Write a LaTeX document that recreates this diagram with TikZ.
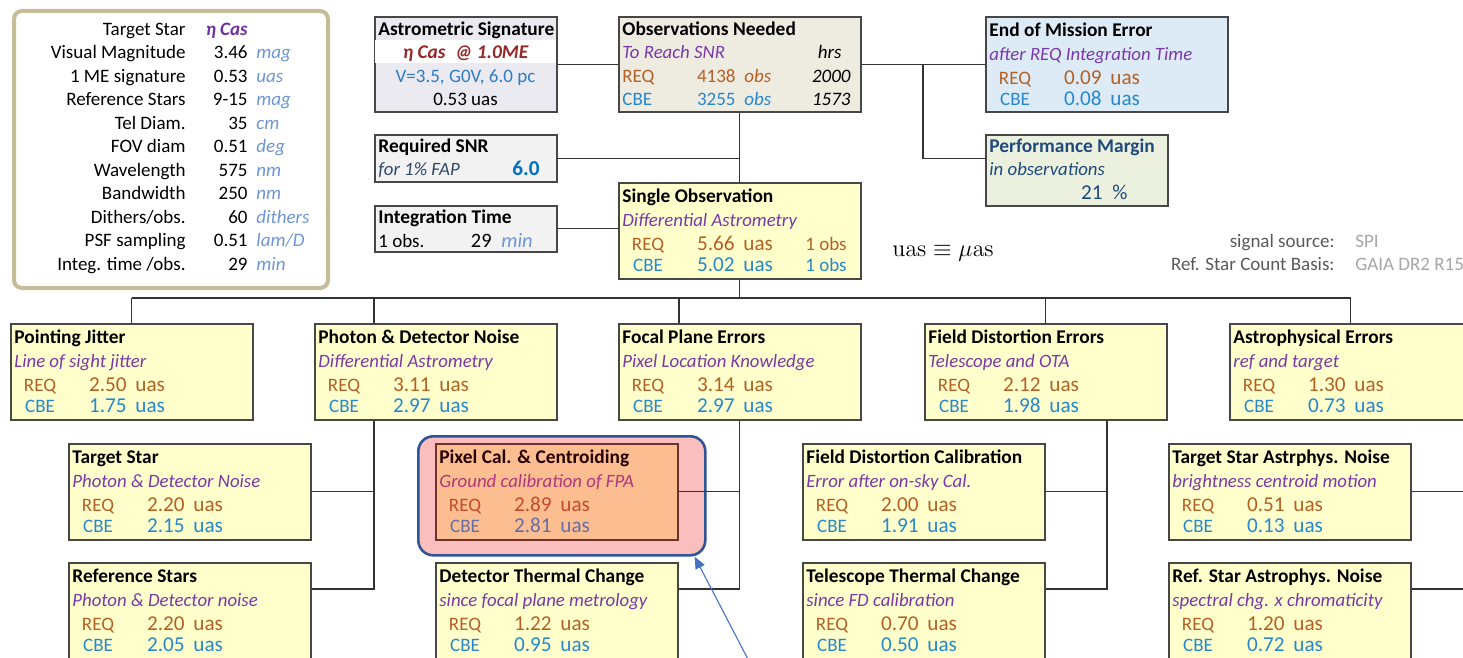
\documentclass[tikz,border=0pt]{standalone}
\usepackage[no-math]{fontspec}
\usepackage{tikz}
\usetikzlibrary{calc,arrows.meta,positioning}
\setmainfont{Carlito}

\definecolor{reqc}{RGB}{180,96,36}
\definecolor{cbec}{RGB}{38,135,205}
\definecolor{subc}{RGB}{122,56,170}
\definecolor{unitc}{RGB}{108,150,212}
\definecolor{navy}{RGB}{31,73,125}
\definecolor{slate}{RGB}{50,72,105}
\definecolor{snrblue}{RGB}{0,112,192}
\definecolor{sigred}{RGB}{150,40,40}
\definecolor{sigblue}{RGB}{46,125,195}
\definecolor{starc}{RGB}{112,48,160}
\definecolor{yelfill}{RGB}{255,255,204}
\definecolor{obsfill}{RGB}{238,236,225}
\definecolor{asigfill}{RGB}{234,234,240}
\definecolor{lgray}{RGB}{242,242,242}
\definecolor{eomfill}{RGB}{221,235,247}
\definecolor{perffill}{RGB}{235,241,222}
\definecolor{paredge}{RGB}{196,189,151}
\definecolor{pinkfill}{RGB}{250,190,190}
\definecolor{hiedge}{RGB}{47,85,151}
\definecolor{pcalfill}{RGB}{252,190,145}
\definecolor{pcaledge}{RGB}{110,50,45}
\definecolor{arrc}{RGB}{68,114,196}
\definecolor{dgray}{RGB}{89,89,89}
\definecolor{mgray}{RGB}{166,166,166}

% error budget box: [box style]{name}{x}{y}{title}{subtitle}{REQ}{CBE}
\newcommand{\errbox}[8][yelbox]{%
   \node[#1,anchor=north west] (#2) at (#3,#4) {};
   \node[ttl] (#2t) at ($(#2.north west)+(4,14)$) {#5};
   \node[sub] (#2s) at ($(#2.north west)+(4,38)$) {#6};
   \node[lreq] (#2rl) at ($(#2.north west)+(30,62)$) {REQ};
   \node[vreq] (#2rv) at ($(#2.north west)+(117,62)$) {#7};
   \node[ureq] (#2ru) at ($(#2.north west)+(125,62)$) {uas};
   \node[lcbe] (#2cl) at ($(#2.north west)+(30,83)$) {CBE};
   \node[vcbe] (#2cv) at ($(#2.north west)+(117,83)$) {#8};
   \node[ucbe] (#2cu) at ($(#2.north west)+(125,83)$) {uas};
}

\begin{document}
\begin{tikzpicture}[x=0.5pt, y=-0.5pt,
   txt/.style={inner sep=0pt, text height=6.2pt, text depth=0pt, font=\fontsize{9.5}{11}\selectfont},
   big/.style={font=\fontsize{10.6}{12}\selectfont},
   ttl/.style={txt, anchor=west, font=\bfseries\fontsize{9.7}{11}\selectfont},
   sub/.style={txt, anchor=west, text=subc, font=\itshape\fontsize{9.4}{11}\selectfont},
   lreq/.style={txt, text=reqc},
   vreq/.style={txt, big, anchor=east, text=reqc},
   ureq/.style={txt, big, anchor=west, text=reqc},
   lcbe/.style={txt, text=cbec},
   vcbe/.style={txt, big, anchor=east, text=cbec},
   ucbe/.style={txt, big, anchor=west, text=cbec},
   box/.style={draw=black!72, line width=0.8pt, inner sep=0pt, minimum width=121pt, minimum height=48pt},
   yelbox/.style={box, fill=yelfill},
   tallbox/.style={yelbox, minimum height=56pt},
   bluebox/.style={box, fill=eomfill, minimum height=47.5pt},
   pcalbox/.style={box, fill=pcalfill, draw=pcaledge},
   smallbox/.style={box, minimum width=91pt},
   hilite/.style={draw=hiedge, fill=pinkfill, line width=1.3pt, rounded corners=7.5pt, inner sep=0pt},
   parbox/.style={draw=paredge, fill=white, line width=2pt, rounded corners=4pt, inner sep=0pt},
   plab/.style={txt, anchor=east},
   pval/.style={txt, anchor=east},
   punit/.style={txt, anchor=west, text=unitc, font=\itshape\fontsize{9.5}{11}\selectfont},
   conn/.style={draw=black!80, line width=0.65pt},
   ptr/.style={draw=arrc, line width=0.55pt, -{Triangle[length=6pt,width=5pt]}}]

   \useasboundingbox (0,0) rectangle (1463,658);
   \clip (0,0) rectangle (1463,658);

   %parameters
   \node[parbox, anchor=north west, minimum width=157pt, minimum height=138.5pt] (params) at (12,9) {};
   \node[plab] (pl0) at (186,29) {Target Star};
   \node[pval, text=starc, font=\bfseries\itshape\fontsize{9.5}{11}\selectfont] (pv0) at (248,29) {η Cas};
   \foreach \lab/\val/\unit [count=\i] in {Visual Magnitude/3.46/mag, 1 ME signature/0.53/uas,
      Reference Stars/9-15/mag, Tel Diam./35/cm, FOV diam/0.51/deg, Wavelength/575/nm,
      Bandwidth/250/nm, {Dithers/obs.}/60/dithers, PSF sampling/0.51/{lam/D}, {Integ. time /obs.}/29/min}
   {
      \node[plab] (pl\i) at (186,29+23.5*\i) {\lab};
      \node[pval] (pv\i) at (248,29+23.5*\i) {\val};
      \node[punit] (pu\i) at (256,29+23.5*\i) {\unit};
   }

   %astrometric signature
   \node[smallbox, fill=asigfill, anchor=north west, minimum height=47.5pt] (asig) at (374,16) {};
   \node[fill=white, inner sep=0pt, minimum width=90.2pt, minimum height=11.5pt, anchor=north west] (band) at (374.8,40) {};
   \node[ttl] (asigt) at (378,29) {Astrometric Signature};
   \node[txt, text=sigred, font=\bfseries\itshape\fontsize{9.7}{11}\selectfont] (asign) at (465.5,52) {η Cas\enspace@ 1.0ME};
   \node[txt, text=sigblue] (asigv) at (465.5,76) {V=3.5, G0V, 6.0 pc};
   \node[txt] (asigu) at (465.5,99) {0.53 uas};

   %observations needed
   \node[box, fill=obsfill, anchor=north west, minimum height=47.5pt] (obsn) at (618,16) {};
   \node[ttl] (obsnt) at (622,29) {Observations Needed};
   \node[sub] (obsns) at (622,52) {To Reach SNR};
   \node[txt, anchor=east, font=\itshape\fontsize{9.5}{11}\selectfont] (obsnh) at (842,52) {hrs};
   \node[txt, anchor=west, text=reqc] (obsnrl) at (622,76) {REQ};
   \node[txt, anchor=east, text=reqc] (obsnrv) at (736,76) {4138};
   \node[txt, anchor=west, text=reqc, font=\itshape\fontsize{9.5}{11}\selectfont] (obsnru) at (744,76) {obs};
   \node[txt, anchor=east, font=\itshape\fontsize{9.5}{11}\selectfont] (obsnrh) at (851,76) {2000};
   \node[txt, anchor=west, text=cbec] (obsncl) at (622,99) {CBE};
   \node[txt, anchor=east, text=cbec] (obsncv) at (736,99) {3255};
   \node[txt, anchor=west, text=cbec, font=\itshape\fontsize{9.5}{11}\selectfont] (obsncu) at (744,99) {obs};
   \node[txt, anchor=east, font=\itshape\fontsize{9.5}{11}\selectfont] (obsnch) at (851,99) {1573};

   %end of mission and margin
   \errbox[bluebox]{eom}{985}{16}{End of Mission Error}{after REQ Integration Time}{0.09}{0.08}
   \node[smallbox, fill=perffill, anchor=north west, minimum height=35.5pt] (perf) at (985,134) {};
   \node[ttl, text=navy] (perft) at (989,146) {Performance Margin};
   \node[sub, text=navy] (perfs) at (989,169) {in observations};
   \node[txt, big, anchor=east, text=navy] (perfv) at (1103,193) {21};
   \node[txt, big, anchor=west, text=navy] (perfu) at (1112,193) {\%};

   %required snr and integration time
   \node[smallbox, fill=lgray, anchor=north west, minimum height=23.5pt] (rsnr) at (374,134) {};
   \node[ttl] (rsnrt) at (378,146) {Required SNR};
   \node[sub, text=slate] (rsnrs) at (378,169) {for 1\% FAP};
   \node[txt, anchor=east, text=snrblue, font=\bfseries\fontsize{10.6}{12}\selectfont] (rsnrv) at (540,169) {6.0};
   \node[smallbox, fill=lgray, anchor=north west, minimum height=23pt] (itime) at (374,205) {};
   \node[ttl] (itimet) at (378,217) {Integration Time};
   \node[txt, anchor=west] (itimel) at (378,241) {1 obs.};
   \node[txt, anchor=east, font=\fontsize{10.2}{12}\selectfont] (itimev) at (492,241) {29};
   \node[punit, font=\itshape\fontsize{10.2}{12}\selectfont] (itimeu) at (501,241) {min};

   %single observation
   \errbox{sobs}{618}{182}{Single Observation}{Differential Astrometry}{5.66}{5.02}
   \node[txt, anchor=east, text=reqc] (sobsro) at ($(sobs.north west)+(229,62)$) {1 obs};
   \node[txt, anchor=east, text=cbec] (sobsco) at ($(sobs.north west)+(229,83)$) {1 obs};

   %notes
   \node[inner sep=0pt, font=\fontsize{12}{14}\selectfont] (uasdef) at (943,253) {$\mathrm{uas}\equiv\mu\mathrm{as}$};
   \node[txt, anchor=east, text=dgray] (sigl) at (1335,241) {signal source:};
   \node[txt, anchor=west, text=mgray] (sigv) at (1355,241) {SPI};
   \node[txt, anchor=east, text=dgray] (refl) at (1335,264) {Ref. Star Count Basis:};
   \node[txt, anchor=west, text=mgray] (refv) at (1355,264) {GAIA DR2 R15};

   %top row
   \errbox{pj}{10}{323}{Pointing Jitter}{Line of sight jitter}{2.50}{1.75}
   \errbox{pdn}{314}{323}{Photon \& Detector Noise}{Differential Astrometry}{3.11}{2.97}
   \errbox{fpe}{618}{323}{Focal Plane Errors}{Pixel Location Knowledge}{3.14}{2.97}
   \errbox{fde}{924}{323}{Field Distortion Errors}{Telescope and OTA}{2.12}{1.98}
   \errbox{ae}{1229}{323}{Astrophysical Errors}{ref and target}{1.30}{0.73}

   %second row
   \errbox{ts}{68}{443}{Target Star}{Photon \& Detector Noise}{2.20}{2.15}
   \node[hilite, anchor=north west, minimum width=143.5pt, minimum height=59.5pt] (pcalo) at (417,435) {};
   \begin{scope}[ttl/.append style={text=black!85!red}, sub/.append style={text={rgb,255:red,175;green,55;blue,125}},
      lreq/.append style={text={rgb,255:red,195;green,75;blue,45}}, vreq/.append style={text={rgb,255:red,195;green,75;blue,45}},
      ureq/.append style={text={rgb,255:red,195;green,75;blue,45}}, lcbe/.append style={text={rgb,255:red,100;green,110;blue,165}},
      vcbe/.append style={text={rgb,255:red,100;green,110;blue,165}}, ucbe/.append style={text={rgb,255:red,100;green,110;blue,165}}]
      \errbox[pcalbox]{pcal}{435}{443}{Pixel Cal. \& Centroiding}{Ground calibration of FPA}{2.89}{2.81}
   \end{scope}
   \errbox{fdc}{802}{443}{Field Distortion Calibration}{Error after on-sky Cal.}{2.00}{1.91}
   \errbox{tsa}{1168}{443}{Target Star Astrphys. Noise}{brightness centroid motion}{0.51}{0.13}

   %third row
   \errbox[tallbox]{rs}{68}{562}{Reference Stars}{Photon \& Detector noise}{2.20}{2.05}
   \errbox[tallbox]{dtc}{435}{562}{Detector Thermal Change}{since focal plane metrology}{1.22}{0.95}
   \errbox[tallbox]{ttc}{802}{562}{Telescope Thermal Change}{since FD calibration}{0.70}{0.50}
   \errbox[tallbox]{rsa}{1168}{562}{Ref. Star Astrophys. Noise}{spectral chg. x chromaticity}{1.20}{0.72}

   \coordinate (br1) at (923,0);
   \coordinate (bus) at (0,298);
   \coordinate (tr1) at (374,0);
   \coordinate (dr2) at (679,0);
   \coordinate (tr3) at (1107,0);
   \coordinate (tr4) at (1534,0);
   \coordinate (arrs) at (764,690);

   %top connectors
   \draw[conn] (asig.east) -- (obsn.west);
   \draw[conn] (obsn.east) -- (eom.west);
   \draw[conn] (br1 |- obsn.east) |- ([yshift=5.75pt]perf.west);
   \draw[conn] (rsnr.east) -- (rsnr.east -| obsn.south);
   \draw[conn] (obsn.south) -- (sobs.north);
   \draw[conn] (itime.east) -- (itime.east -| sobs.west);
   \draw[conn] (sobs.south) -- (sobs.south |- bus);

   %bus
   \draw[conn] (pj.north |- bus) -- (ae.north |- bus);
   \draw[conn] (pj.north |- bus) -- (pj.north);
   \draw[conn] (tr1 |- bus) -- (tr1 |- pdn.north);
   \draw[conn] (dr2 |- bus) -- (dr2 |- fpe.north);
   \draw[conn] (fde.north |- bus) -- (fde.north);
   \draw[conn] (ae.north |- bus) -- (ae.north);

   %children
   \draw[conn] (tr1 |- pdn.south) |- ($(rs.north east)+(0,27)$);
   \draw[conn] (ts.east) -- (ts.east -| tr1);
   \draw[conn] (fpe.south) |- ($(dtc.north east)+(0,27)$);
   \draw[conn] (pcal.east) -- (pcal.east -| fpe.south);
   \draw[conn] (tr3 |- fde.south) |- ($(ttc.north east)+(0,27)$);
   \draw[conn] (fdc.east) -- (fdc.east -| tr3);
   \draw[conn] (tsa.east) -- (tsa.east -| tr4);
   \draw[conn] ($(rsa.north east)+(0,27)$) -- ++(120,0);

   %pointer
   \draw[ptr] (arrs) -- ([xshift=-6pt]pcalo.south east);
\end{tikzpicture}
\end{document}
